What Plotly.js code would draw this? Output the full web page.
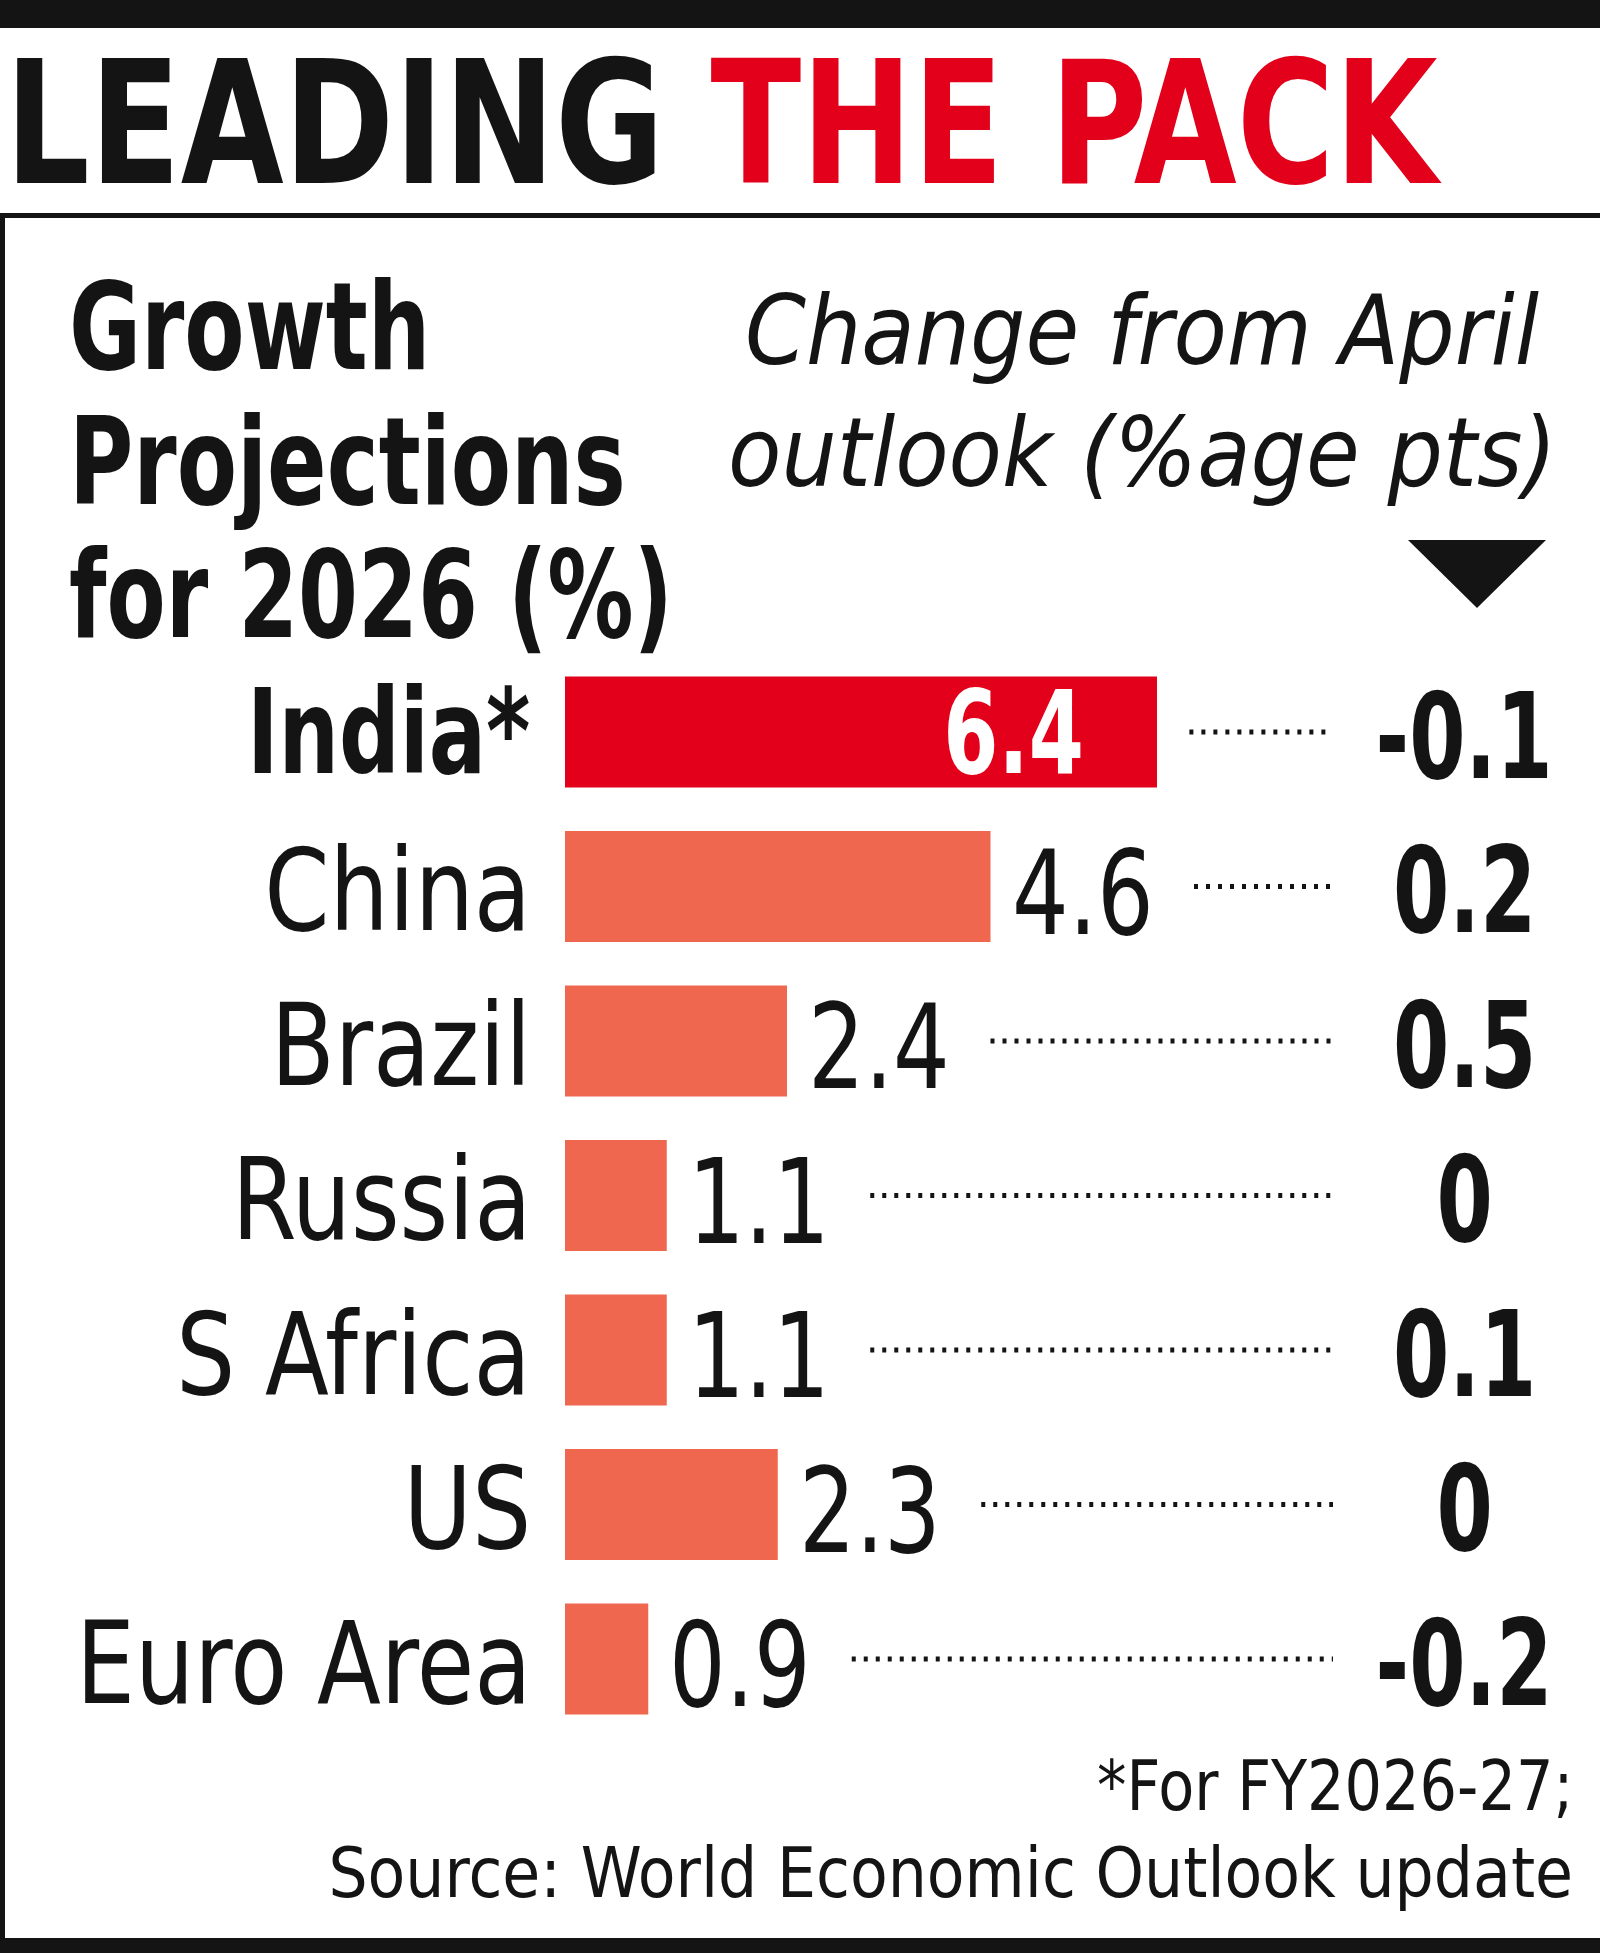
<!DOCTYPE html>
<html>
<head>
<meta charset="utf-8">
<script src="https://cdn.plot.ly/plotly-3.0.1.min.js"></script>
<style>
  html, body { margin: 0; padding: 0; background: #fff; }
  #chart { width: 1600px; height: 1953px; }
</style>
</head>
<body>
<div id="chart"></div>
<script>
// ---- data ----
const countries = ['India*', 'China', 'Brazil', 'Russia', 'S Africa', 'US', 'Euro Area'];
const growth2026 = [6.4, 4.6, 2.4, 1.1, 1.1, 2.3, 0.9];
const changeFromApril = [-0.1, 0.2, 0.5, 0, 0.1, 0, -0.2];
const highlighted = 'India*';

const titleBlack = 'LEADING';
const titleRed = 'THE PACK';
const leftHeader = ['Growth', 'Projections', 'for 2026 (%)'];
const rightHeader = ['Change from April', 'outlook (%age pts)'];
const footnotes = ['*For FY2026-27;', 'Source: World Economic Outlook update'];

// ---- layout constants ----
const W = 1600, H = 1953;
const RED = '#E2001A', CORAL = '#EE674E', INK = '#141414';
const COND = '"DejaVu Sans Condensed", "DejaVu Sans", sans-serif';
const zeroPx = 565, pxPerUnit = 92.5;
const firstRowPx = 732, rowPitch = 154.5;
const px = x => x / W;
const py = y => 1 - y / H;

const xRange = [-zeroPx / pxPerUnit, (W - zeroPx) / pxPerUnit];
const yRange = [(H - firstRowPx) / rowPitch, -firstRowPx / rowPitch];
const leaderEnd = (1333 - zeroPx) / pxPerUnit;

const fmt = v => (v === 0 ? '0' : v.toFixed(1));

// bars
const barTrace = {
  type: 'bar',
  orientation: 'h',
  x: growth2026,
  y: countries,
  width: 0.72,
  marker: { color: countries.map(c => (c === highlighted ? RED : CORAL)), line: { width: 0 } },
  hoverinfo: 'skip'
};

// dotted leaders
const lx = [], ly = [];
countries.forEach((c, i) => {
  const start = c === highlighted ? growth2026[i] + 0.35 : growth2026[i] + 2.2;
  lx.push(start, leaderEnd, null);
  ly.push(c, c, null);
});
const leaderTrace = {
  type: 'scatter', mode: 'lines', x: lx, y: ly,
  line: { color: INK, width: 5, dash: '4px,8px' },
  hoverinfo: 'skip'
};

const annotations = [];
const annScales = [];
const ann = (o, s) => {
  annotations.push(Object.assign({ showarrow: false, borderpad: 0 }, o));
  annScales.push(s || 1);
};

// title
ann({
  xref: 'paper', yref: 'paper', x: px(4), y: py(123), xanchor: 'left', yanchor: 'middle',
  text: titleBlack + ' <span style="color:' + RED + '">' + titleRed + '</span>',
  font: { family: COND, size: 171, color: INK, weight: 700 }
}, 0.865);

// left header
[327, 462, 595].forEach((cy, i) => ann({
  xref: 'paper', yref: 'paper', x: px(68), y: py(cy), xanchor: 'left', yanchor: 'middle',
  text: leftHeader[i], font: { family: COND, size: 122, color: INK, weight: 700 }
}, i === 2 ? 0.785 : 0.8));

// right header (italic)
[330, 452].forEach((cy, i) => ann({
  xref: 'paper', yref: 'paper', x: px(1142), y: py(cy), xanchor: 'center', yanchor: 'middle',
  text: rightHeader[i], font: { family: COND, size: 97, color: INK, style: 'italic' }
}));

// country labels, values, changes
countries.forEach((c, i) => {
  const isHi = c === highlighted;
  ann({
    xref: 'x', yref: 'y', x: 0, y: c, xanchor: 'right', yanchor: 'middle', xshift: -33, yshift: isHi ? 0 : -4,
    text: c, font: { family: COND, size: isHi ? 118 : 114, color: INK, weight: isHi ? 700 : 400 }
  }, isHi ? 0.8 : 0.91);
  ann({
    xref: 'x', yref: 'y', x: growth2026[i], y: c,
    xanchor: isHi ? 'right' : 'left', yanchor: 'middle', xshift: isHi ? -72 : 20, yshift: isHi ? 0 : -6,
    text: fmt(growth2026[i]),
    font: { family: COND, size: isHi ? 116 : 118, color: isHi ? '#ffffff' : INK, weight: isHi ? 700 : 400 }
  }, isHi ? 0.76 : 0.84);
  ann({
    xref: 'paper', yref: 'y', x: px(1464), y: c, xanchor: 'center', yanchor: 'middle', yshift: -4,
    text: fmt(changeFromApril[i]), font: { family: COND, size: 120, color: INK, weight: 700 }
  }, 0.75);
});

// footnotes
[1786, 1873].forEach((cy, i) => ann({
  xref: 'paper', yref: 'paper', x: px(1574), y: py(cy), xanchor: 'right', yanchor: 'middle',
  text: footnotes[i], font: { family: COND, size: 69, color: INK }
}, i === 0 ? 0.95 : 0.995));

// frame shapes
const shapes = [
  { type: 'rect', xref: 'paper', yref: 'paper', x0: 0, x1: 1, y0: py(28), y1: 1, fillcolor: INK, line: { width: 0 } },
  { type: 'rect', xref: 'paper', yref: 'paper', x0: 0, x1: 1, y0: py(218), y1: py(213), fillcolor: INK, line: { width: 0 } },
  { type: 'rect', xref: 'paper', yref: 'paper', x0: 0, x1: px(5), y0: py(1940), y1: py(213), fillcolor: INK, line: { width: 0 } },
  { type: 'rect', xref: 'paper', yref: 'paper', x0: 0, x1: 1, y0: 0, y1: py(1938), fillcolor: INK, line: { width: 0 } },
  { type: 'path', xref: 'paper', yref: 'paper',
    path: 'M ' + px(1408) + ' ' + py(540) + ' L ' + px(1546) + ' ' + py(540) + ' L ' + px(1477) + ' ' + py(608) + ' Z',
    fillcolor: INK, line: { width: 0 } }
];

const layout = {
  width: W, height: H,
  margin: { l: 0, r: 0, t: 0, b: 0, pad: 0 },
  paper_bgcolor: '#ffffff', plot_bgcolor: '#ffffff',
  showlegend: false,
  xaxis: { range: xRange, visible: false, fixedrange: true },
  yaxis: { type: 'category', categoryarray: countries, categoryorder: 'array', range: yRange, visible: false, fixedrange: true },
  annotations: annotations,
  shapes: shapes
};

// horizontally condense annotation texts (mimics the condensed newspaper type)
function condense(gd) {
  gd.querySelectorAll('g.annotation').forEach(g => {
    const idx = +g.getAttribute('data-index');
    const s = annScales[idx];
    if (!s || s === 1) return;
    const t = g.querySelector('text.annotation-text');
    if (!t) return;
    const bb = t.getBBox();
    const xa = annotations[idx].xanchor;
    const ax = xa === 'left' ? bb.x : xa === 'right' ? bb.x + bb.width : bb.x + bb.width / 2;
    const prev = t.getAttribute('transform') || '';
    t.setAttribute('transform', (prev + ' translate(' + ax + ',0) scale(' + s + ',1) translate(' + (-ax) + ',0)').trim());
  });
}

Plotly.newPlot('chart', [barTrace, leaderTrace], layout, { displayModeBar: false, staticPlot: true })
  .then(gd => condense(gd));
</script>
</body>
</html>
